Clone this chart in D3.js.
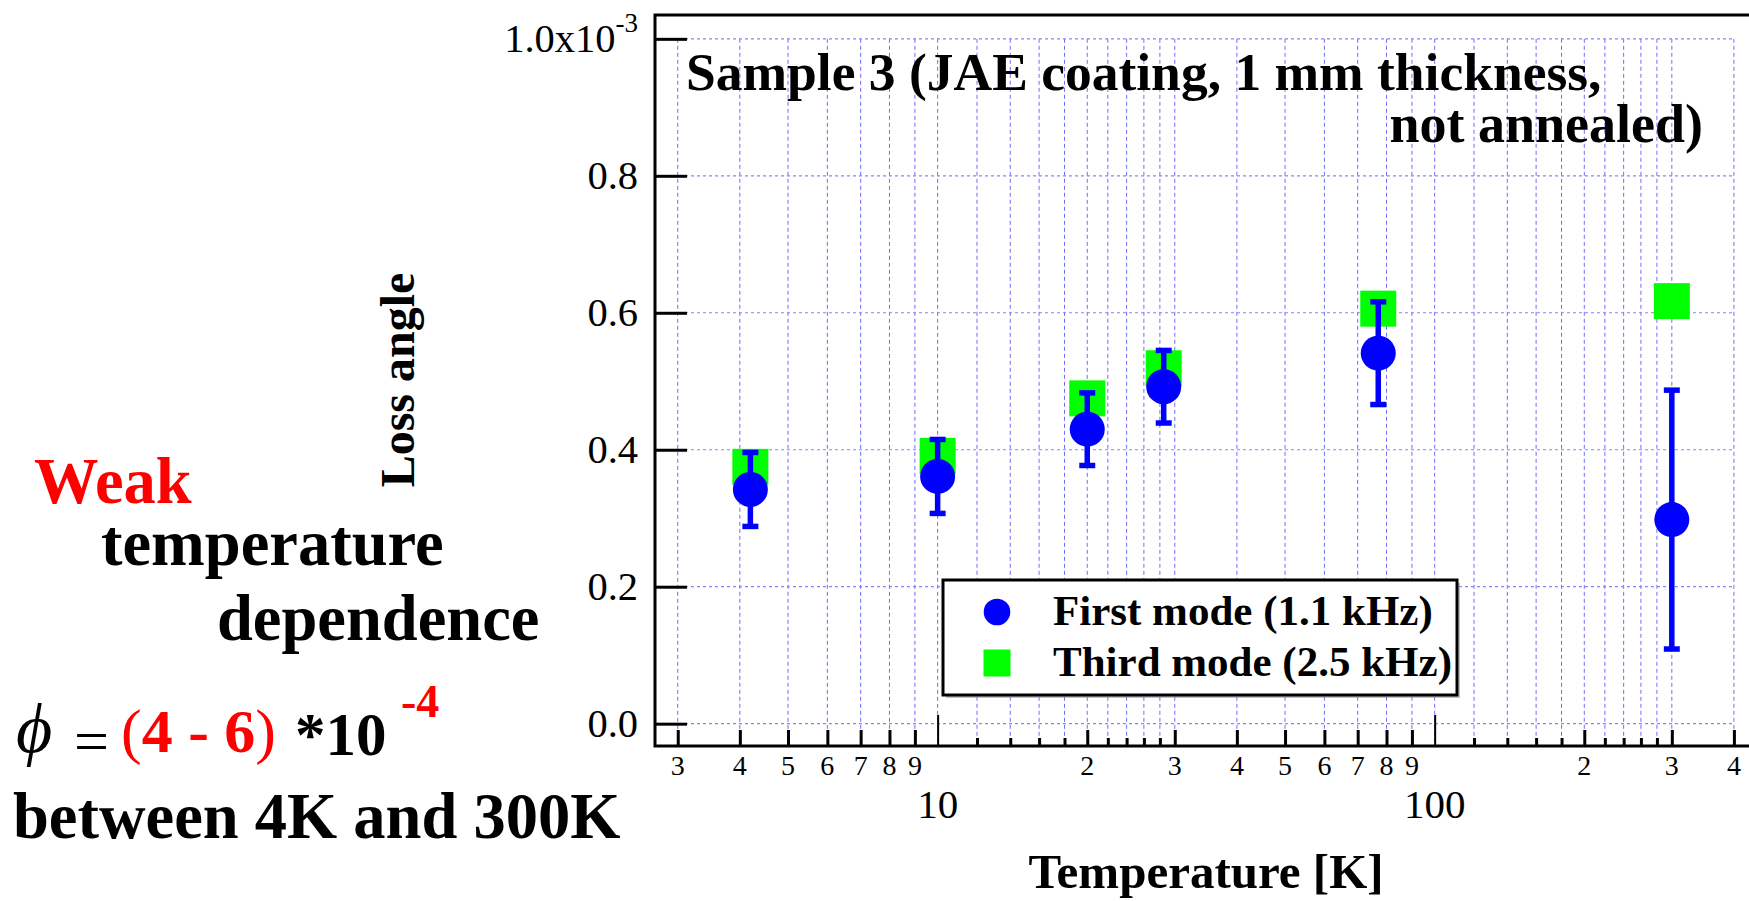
<!DOCTYPE html>
<html>
<head>
<meta charset="utf-8">
<script src="https://cdn.jsdelivr.net/npm/d3@7"></script>
<style>
  body { margin: 0; background: #ffffff; }
  svg { display: block; }
  text { font-family: "Liberation Serif", "Times New Roman", Times, serif; }
</style>
</head>
<body>
<svg id="chart" width="1749" height="901"></svg>
<script>
// ---- data (loss angle in units of 1e-3) ----
const temperatures = [4.2, 10, 20, 28.5, 77, 300];
const firstMode    = [0.342, 0.361, 0.430, 0.492, 0.541, 0.298];
const firstModeErr = [0.054, 0.054, 0.053, 0.053, 0.075, 0.189];
const thirdMode    = [0.375, 0.391, 0.475, 0.519, 0.606, 0.617];

const xTickValues   = [3,4,5,6,7,8,9,10,12,14,16,18,20,22,24,26,28,30,40,50,60,70,80,90,100,120,140,160,180,200,220,240,260,280,300,400];
const xMajorTicks   = [10, 100];
const xLabeledTicks = [3,4,5,6,7,8,9,20,30,40,50,60,70,80,90,200,300,400];
const yTickValues   = [0, 0.2, 0.4, 0.6, 0.8, 1.0];
const yTickLabels   = ["0.0", "0.2", "0.4", "0.6", "0.8", "1.0x10"];
const yExponent     = "-3";
const legendLabels  = ["First mode (1.1 kHz)", "Third mode (2.5 kHz)"];
const chartTitle    = ["Sample 3 (JAE coating, 1 mm thickness,", "not annealed)"];

(function () {
const svg = d3.select("#chart");
const W = 1749;
const plotLeft = 655, plotTop = 15, plotBottom = 746;

const x = d3.scaleLog().domain([2.7, 425]).range([plotLeft, 1747]);
const y = d3.scaleLinear().domain([-0.0326, 1.0348]).range([plotBottom, plotTop]);

const gridColor = "#6e6eff";

// ---- grid ----
const grid = svg.append("g");
grid.selectAll("line.v").data(xTickValues).join("line").attr("class", "v")
  .attr("x1", d => x(d)).attr("x2", d => x(d))
  .attr("y1", y(1.0)).attr("y2", plotBottom)
  .attr("stroke", gridColor).attr("stroke-width", 1)
  .attr("stroke-dasharray", "4,3");
grid.selectAll("line.h").data(yTickValues).join("line").attr("class", "h")
  .attr("x1", plotLeft).attr("x2", x(400))
  .attr("y1", d => y(d)).attr("y2", d => y(d))
  .attr("stroke", "#8585ff").attr("stroke-width", 1.2)
  .attr("stroke-dasharray", "3,3");

// ---- frame ----
svg.append("path")
  .attr("d", `M${W},${plotTop} L${plotLeft},${plotTop} L${plotLeft},${plotBottom} L${W},${plotBottom}`)
  .attr("fill", "none").attr("stroke", "#000").attr("stroke-width", 3);

// ---- x axis ticks (inward) ----
function xTicks(values, size, width) {
  const g = svg.append("g").attr("transform", `translate(0,${plotBottom})`)
    .call(d3.axisBottom(x).tickValues(values).tickSize(-size).tickFormat(""));
  g.select(".domain").remove();
  g.selectAll(".tick text").remove();
  g.selectAll(".tick line").attr("stroke", "#000").attr("stroke-width", width);
  return g;
}
const shortTicks = xTickValues.filter(v => !xMajorTicks.includes(v) && !xLabeledTicks.includes(v));
xTicks(shortTicks, 8, 3);
xTicks(xLabeledTicks, 16, 3);
xTicks(xMajorTicks, 31, 2);

// x tick labels
svg.append("g").selectAll("text").data(xLabeledTicks).join("text")
  .attr("x", d => x(d)).attr("y", 775)
  .attr("text-anchor", "middle").attr("font-size", 28)
  .text(d => String(d)[0]);
svg.append("g").selectAll("text").data(xMajorTicks).join("text")
  .attr("x", d => x(d)).attr("y", 818)
  .attr("text-anchor", "middle").attr("font-size", 41)
  .text(d => String(d));

// ---- y axis ----
const yAxisG = svg.append("g").attr("transform", `translate(${plotLeft},0)`)
  .call(d3.axisLeft(y).tickValues(yTickValues).tickSize(-32).tickPadding(17)
    .tickFormat((d, i) => yTickLabels[i]));
yAxisG.select(".domain").remove();
yAxisG.selectAll(".tick line").attr("stroke", "#000").attr("stroke-width", 3);
yAxisG.selectAll(".tick text")
  .attr("font-size", 40.5).attr("fill", "#000");
yAxisG.selectAll(".tick text").filter(d => d === 1.0)
  .append("tspan").attr("dy", -20).attr("font-size", 27).text(yExponent);

// axis titles
svg.append("text")
  .attr("transform", `translate(414,380) rotate(-90)`)
  .attr("text-anchor", "middle").attr("font-size", 48).attr("font-weight", "bold")
  .text("Loss angle");
svg.append("text")
  .attr("x", 1206).attr("y", 888)
  .attr("text-anchor", "middle").attr("font-size", 49).attr("font-weight", "bold")
  .text("Temperature [K]");

// chart title
svg.append("text").attr("x", 686).attr("y", 90)
  .attr("font-size", 53.5).attr("font-weight", "bold").text(chartTitle[0]);
svg.append("text").attr("x", 1703).attr("y", 142).attr("text-anchor", "end")
  .attr("font-size", 54).attr("font-weight", "bold").text(chartTitle[1]);

// ---- data marks ----
const pts = temperatures.map((t, i) => ({t, first: firstMode[i], err: firstModeErr[i], third: thirdMode[i]}));
const sq = 36, r = 17.5, capW = 16, ebW = 5.5;

svg.append("g").selectAll("rect").data(pts).join("rect")
  .attr("x", d => x(d.t) - sq / 2).attr("y", d => y(d.third) - sq / 2)
  .attr("width", sq).attr("height", sq).attr("fill", "#00ff00");

const eb = svg.append("g").attr("stroke", "#0000ff").attr("stroke-width", ebW);
eb.selectAll("line.bar").data(pts).join("line").attr("class", "bar")
  .attr("x1", d => x(d.t)).attr("x2", d => x(d.t))
  .attr("y1", d => y(d.first + d.err)).attr("y2", d => y(d.first - d.err));
eb.selectAll("line.capTop").data(pts).join("line").attr("class", "capTop")
  .attr("x1", d => x(d.t) - capW / 2).attr("x2", d => x(d.t) + capW / 2)
  .attr("y1", d => y(d.first + d.err)).attr("y2", d => y(d.first + d.err));
eb.selectAll("line.capBot").data(pts).join("line").attr("class", "capBot")
  .attr("x1", d => x(d.t) - capW / 2).attr("x2", d => x(d.t) + capW / 2)
  .attr("y1", d => y(d.first - d.err)).attr("y2", d => y(d.first - d.err));

svg.append("g").selectAll("circle").data(pts).join("circle")
  .attr("cx", d => x(d.t)).attr("cy", d => y(d.first))
  .attr("r", r).attr("fill", "#0000ff");

// ---- legend ----
const lg = svg.append("g");
lg.append("rect").attr("x", 946).attr("y", 583).attr("width", 514).attr("height", 115)
  .attr("fill", "#888").attr("opacity", 0.5);
lg.append("rect").attr("x", 943).attr("y", 580).attr("width", 514).attr("height", 115)
  .attr("fill", "#fff").attr("stroke", "#000").attr("stroke-width", 3);
lg.append("circle").attr("cx", 997).attr("cy", 612).attr("r", 13.3).attr("fill", "#0000ff");
lg.append("rect").attr("x", 997 - 13.5).attr("y", 663 - 13.5).attr("width", 27).attr("height", 27).attr("fill", "#00ff00");
lg.selectAll("text").data(legendLabels).join("text")
  .attr("x", 1053).attr("y", (d, i) => 625 + i * 51)
  .attr("font-size", 43).attr("font-weight", "bold").text(d => d);

// ---- side annotation ----
const ann = svg.append("g").attr("font-weight", "bold");
ann.append("text").attr("x", 34).attr("y", 503).attr("font-size", 64.5).attr("fill", "#ff0000").text("Weak");
ann.append("text").attr("x", 101).attr("y", 565).attr("font-size", 64.5).text("temperature");
ann.append("text").attr("x", 217).attr("y", 640).attr("font-size", 64.5).text("dependence");
svg.append("text").attr("x", 16).attr("y", 752).attr("font-size", 70).attr("font-style", "italic").text("\u03D5");
svg.append("text").attr("x", 74).attr("y", 762).attr("font-size", 62).text("=");
const range = ann.append("text").attr("x", 121).attr("y", 752).attr("font-size", 62).attr("fill", "#ff0000");
range.append("tspan").attr("font-weight", "normal").text("(");
range.append("tspan").text("4 - 6");
range.append("tspan").attr("font-weight", "normal").text(")");
ann.append("text").attr("x", 295).attr("y", 755).attr("font-size", 61).text("*10");
ann.append("text").attr("x", 401).attr("y", 717).attr("font-size", 46).attr("fill", "#ff0000").text("-4");
ann.append("text").attr("x", 13).attr("y", 838).attr("font-size", 64.5).text("between 4K and 300K");
})();
</script>
</body>
</html>
